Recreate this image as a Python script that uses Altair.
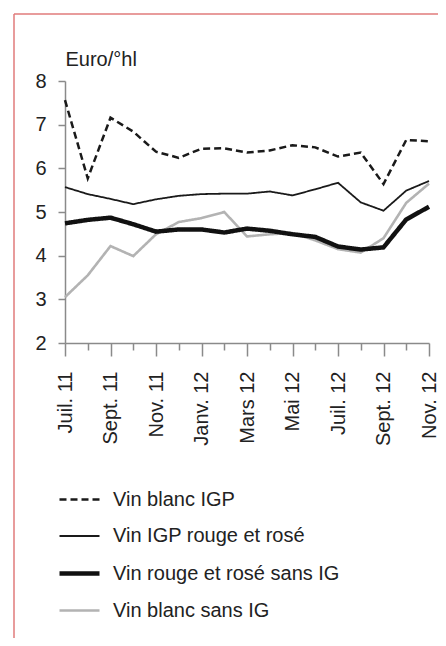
import json
import altair as alt
import pandas as pd

months = ["Juil. 11", "Août 11", "Sept. 11", "Oct. 11", "Nov. 11", "Déc. 11",
          "Janv. 12", "Févr. 12", "Mars 12", "Avr. 12", "Mai 12", "Juin 12",
          "Juil. 12", "Août 12", "Sept. 12", "Oct. 12", "Nov. 12"]
shown_labels = months[::2]

series_names = ["Vin blanc IGP", "Vin IGP rouge et rosé",
                "Vin rouge et rosé sans IG", "Vin blanc sans IG"]

blanc_igp = [7.56, 5.77, 7.16, 6.84, 6.38, 6.24, 6.45, 6.46, 6.36, 6.41,
             6.53, 6.48, 6.27, 6.36, 5.64, 6.65, 6.62]
igp_rouge_rose = [5.57, 5.41, 5.30, 5.18, 5.29, 5.37, 5.41, 5.42, 5.42, 5.47,
                  5.38, 5.52, 5.67, 5.22, 5.03, 5.49, 5.71]
rouge_rose_sans_ig = [4.74, 4.82, 4.87, 4.72, 4.55, 4.60, 4.60, 4.53, 4.62, 4.57,
                      4.49, 4.43, 4.21, 4.14, 4.19, 4.83, 5.12]
blanc_sans_ig = [3.05, 3.55, 4.22, 3.99, 4.49, 4.77, 4.86, 5.00, 4.44, 4.49,
                 4.52, 4.35, 4.15, 4.07, 4.40, 5.21, 5.65]

y_ticks = [2, 3, 4, 5, 6, 7, 8]

# draw order: grey first so black lines sit on top
draw_order = [("Vin blanc sans IG", blanc_sans_ig),
              ("Vin IGP rouge et rosé", igp_rouge_rose),
              ("Vin blanc IGP", blanc_igp),
              ("Vin rouge et rosé sans IG", rouge_rose_sans_ig)]
rows = []
for name, vals in draw_order:
    for m, v in zip(months, vals):
        rows.append({"mois": m, "prix": v, "serie": name})
df = pd.DataFrame(rows)

shown_js = json.dumps(shown_labels, ensure_ascii=False)
FONT = "Liberation Sans"
AXIS_GREY = "#8a8a8a"

legend = alt.Legend(title=None, orient="none", legendX=-8, legendY=397,
                    symbolType="stroke", symbolSize=1600,
                    labelFontSize=20, labelFont=FONT, labelColor="#222",
                    labelOffset=11, rowPadding=5, padding=0,
                    labelLimit=400)

lines = alt.Chart(df).mark_line(strokeJoin="miter", strokeCap="butt").encode(
    x=alt.X("mois:O", sort=months,
            scale=alt.Scale(type="point", padding=0),
            axis=alt.Axis(title=None, labelAngle=-90, labelAlign="right",
                          labelBaseline="middle", labelFontSize=20, labelFont=FONT,
                          labelColor="#222", domainColor=AXIS_GREY, domainWidth=1.5,
                          tickColor=AXIS_GREY, tickWidth=1.5,
                          tickSize={"condition": {"test": f"indexof({shown_js}, datum.value) >= 0",
                                                  "value": 13}, "value": 7},
                          labelPadding=15,
                          labelExpr=f"indexof({shown_js}, datum.value) >= 0 ? datum.value : ''")),
    y=alt.Y("prix:Q", scale=alt.Scale(domain=[2, 8], nice=False, zero=False),
            axis=alt.Axis(values=y_ticks, title="Euro/°hl", titleAngle=0,
                          titleAlign="left", titleBaseline="alphabetic",
                          titleX=0, titleY=-16, titleFontSize=20, titleFont=FONT,
                          titleFontWeight="normal", titleColor="#222",
                          labelFontSize=20, labelFont=FONT, labelColor="#222",
                          labelPadding=12, tickSize=7, tickColor=AXIS_GREY,
                          tickWidth=1.5, domainColor=AXIS_GREY, domainWidth=1.5,
                          grid=False)),
    color=alt.Color("serie:N", sort=series_names,
                    scale=alt.Scale(domain=series_names,
                                    range=["#1a1a1a", "#1a1a1a", "#111111", "#b3b3b3"]),
                    legend=legend),
    strokeDash=alt.StrokeDash("serie:N", sort=series_names,
                              scale=alt.Scale(domain=series_names,
                                              range=[[7, 4], [1, 0], [1, 0], [1, 0]]),
                              legend=legend),
    strokeWidth=alt.StrokeWidth("serie:O", sort=series_names,
                                scale=alt.Scale(type="ordinal", domain=series_names,
                                                range=[2.5, 1.8, 4.5, 2.6]),
                                legend=legend),
)

frame = alt.Data(values=[{"k": 1}])
border_top = alt.Chart(frame).mark_rule(color="#e07b7b", strokeWidth=1.5).encode(
    x=alt.value(-51), x2=alt.value(373), y=alt.value(-67))
border_left = alt.Chart(frame).mark_rule(color="#e07b7b", strokeWidth=1.5).encode(
    x=alt.value(-51), y=alt.value(-67), y2=alt.value(557))

chart = alt.layer(lines, border_top, border_left).properties(
    width=364, height=262,
    autosize=alt.AutoSizeParams(type="none"),
    padding={"left": 57, "top": 73, "right": 9, "bottom": 295},
).configure_view(stroke=None)

chart.save("out.html", embed_options={"renderer": "svg", "actions": False})
